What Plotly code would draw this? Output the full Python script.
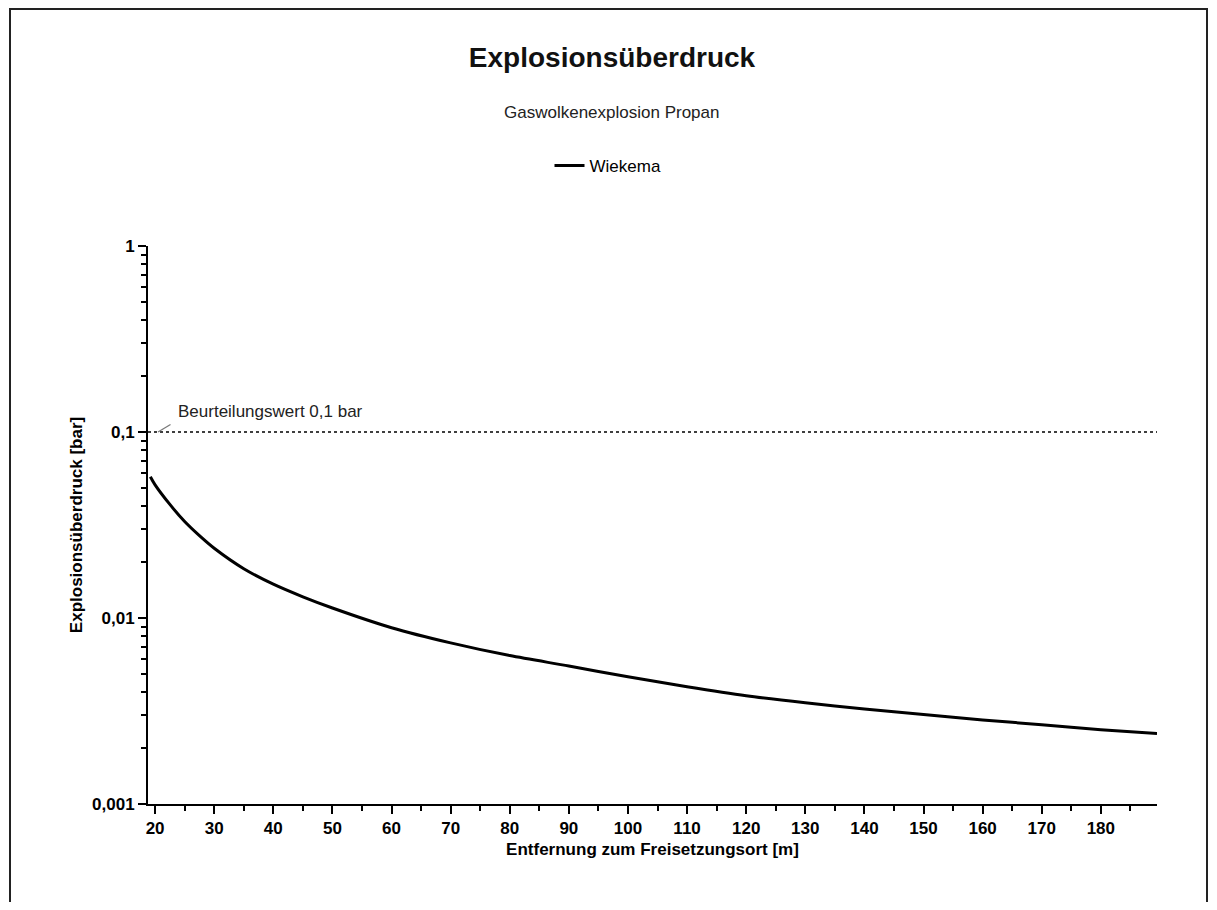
import plotly.graph_objects as go

# ---- data ----
distance_m = [19.2, 20, 22.5, 25, 27.5, 30, 35, 40, 45, 50, 60, 70, 80, 90,
              100, 110, 120, 130, 140, 150, 160, 170, 180, 189.5]
pressure_bar = [0.0575, 0.0520, 0.0408, 0.0330, 0.0277, 0.0237, 0.0184, 0.0152,
                0.0130, 0.01132, 0.00887, 0.00735, 0.00628, 0.00552, 0.00483,
                0.00427, 0.00382, 0.00350, 0.00324, 0.00303, 0.00283, 0.00267,
                0.00251, 0.00239]
threshold_bar = 0.1
x_ticks = [20, 30, 40, 50, 60, 70, 80, 90, 100, 110, 120, 130, 140, 150, 160, 170, 180]
y_ticks = [0.001, 0.01, 0.1, 1]
y_tick_text = ["0,001", "0,01", "0,1", "1"]
x_range = [18.8, 189.5]

FONT = "Liberation Sans, Arial, sans-serif"

fig = go.Figure()
fig.add_trace(go.Scatter(
    x=x_range, y=[threshold_bar, threshold_bar], mode="lines",
    line=dict(color="black", width=1.5, dash="dot"), showlegend=False,
    hoverinfo="skip"))
fig.add_trace(go.Scatter(
    x=distance_m, y=pressure_bar, mode="lines", name="Wiekema",
    line=dict(color="black", width=3, shape="spline", smoothing=0.8)))

OFF = 8  # page body margin
W, H = 1217 - 2 * OFF, 910 - 2 * OFF
# plot area in reference pixels: x 148..1157, y 246..804
L, T = 148 - OFF, 246 - OFF
R, B = W - (1157 - OFF), H - (804 - OFF)
pw, ph = W - L - R, H - T - B

def px(xp):
    return (xp - OFF - L) / pw

def py(yp):
    return (H - B - (yp - OFF)) / ph

fig.update_layout(
    width=W, height=H, autosize=False,
    margin=dict(l=L, r=R, t=T, b=B),
    paper_bgcolor="white", plot_bgcolor="white",
    font=dict(family=FONT, color="black"),
    title=dict(text="<b>Explosionsüberdruck</b>", x=px(612), xref="paper",
               xanchor="center", y=1 - (57 - OFF) / H, yref="container",
               yanchor="middle",
               font=dict(size=28, family=FONT, color="#111")),
    legend=dict(orientation="h", x=px(608), xanchor="center", y=py(166),
                yanchor="middle", font=dict(size=17, family=FONT),
                bgcolor="rgba(0,0,0,0)"),
    xaxis=dict(
        range=x_range, tickvals=x_ticks, ticks="outside", ticklen=8, tickwidth=2,
        tickcolor="black", showline=True, linecolor="black", linewidth=2,
        showgrid=False, zeroline=False,
        tickfont=dict(size=17, family=FONT, weight="bold"),
        minor=dict(dtick=5, tick0=0, ticks="outside", ticklen=5, tickwidth=2,
                   tickcolor="black", showgrid=False),
        title=dict(text="<b>Entfernung zum Freisetzungsort [m]</b>",
                   font=dict(size=17, family=FONT), standoff=6),
    ),
    yaxis=dict(
        type="log", range=[-3, 0], tickvals=y_ticks, ticktext=y_tick_text,
        ticks="outside", ticklen=8, tickwidth=2, tickcolor="black",
        showline=True, linecolor="black", linewidth=2, showgrid=False,
        zeroline=False, tickfont=dict(size=17, family=FONT, weight="bold"),
        minor=dict(dtick="D1", ticks="outside", ticklen=5, tickwidth=2,
                   tickcolor="black", showgrid=False),
        title=dict(text="<b>Explosionsüberdruck [bar]</b>",
                   font=dict(size=17, family=FONT), standoff=5),
    ),
    annotations=[
        dict(text="Gaswolkenexplosion Propan", xref="paper", yref="paper",
             x=px(611), y=py(113), xanchor="center", yanchor="middle",
             showarrow=False, font=dict(size=17, family=FONT, color="#222")),
        dict(text="Beurteilungswert 0,1 bar", xref="paper", yref="paper",
             x=px(176), y=py(411.5), xanchor="left", yanchor="middle",
             showarrow=False, font=dict(size=17, family=FONT, color="#222")),
    ],
    shapes=[
        dict(type="line", xref="paper", yref="paper", x0=px(158), y0=py(432),
             x1=px(170.5), y1=py(424.5), line=dict(color="#777", width=1.2)),
        dict(type="rect", xref="paper", yref="paper", x0=px(10), y0=py(916),
             x1=px(1207), y1=py(9), line=dict(color="#222", width=2),
             layer="below"),
    ],
)

fig.write_html("out.html")
